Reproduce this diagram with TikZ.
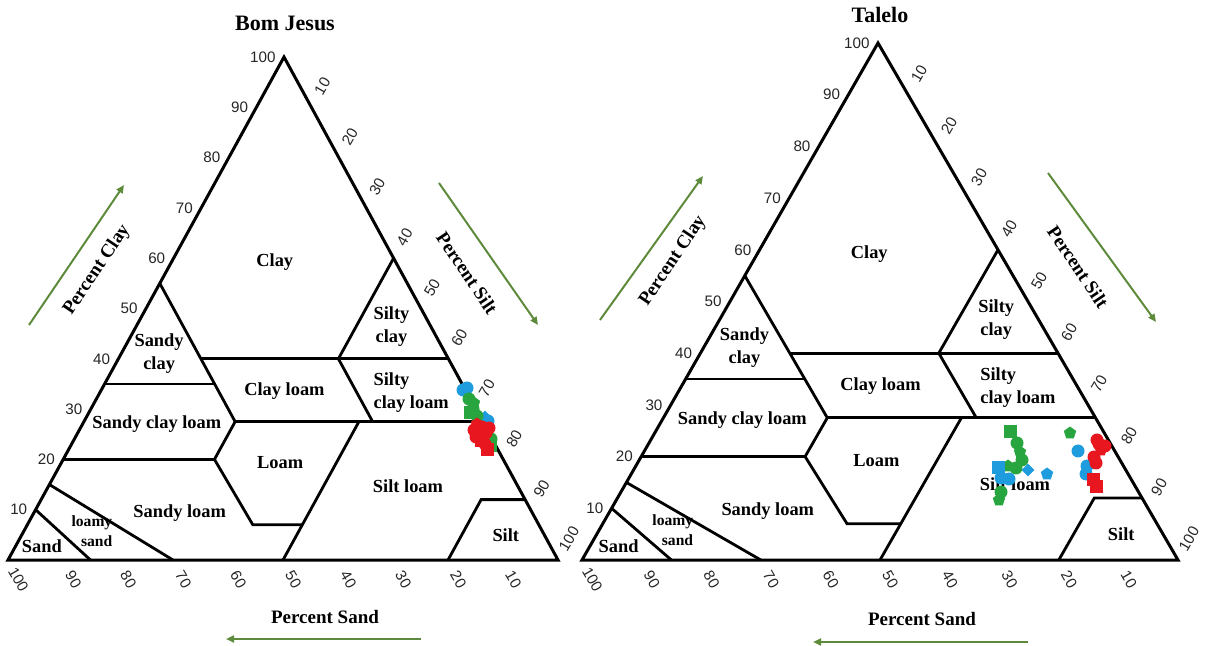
\documentclass[tikz,border=0pt]{standalone}
\usepackage{fontspec}
\setmainfont{Liberation Serif}
\setsansfont{Liberation Sans}
\usepackage{xcolor}
\usepackage{tikz}
\usetikzlibrary{arrows.meta,shapes.geometric}

\definecolor{arrowGreen}{RGB}{94,139,59}
\definecolor{dotRed}{RGB}{232,22,30}
\definecolor{dotGreen}{RGB}{40,165,62}
\definecolor{dotBlue}{RGB}{30,156,222}

\begin{document}
\begin{tikzpicture}[
        x=0.5pt, y=-0.5pt,
        borderLine/.style={line width=1.5pt, line join=miter},
        classLine/.style={line width=1.4pt},
        classLabel/.style={font=\fontsize{9.2}{11.5}\selectfont\bfseries, align=center, inner sep=0pt},
        smallLabel/.style={font=\fontsize{7.8}{10}\selectfont\bfseries, align=right, inner sep=0pt},
        tickLabel/.style={font=\fontsize{7.6}{8}\selectfont\sffamily, text=black!85, inner sep=0pt},
        titleLabel/.style={font=\fontsize{11}{12}\selectfont\bfseries, inner sep=0pt},
        axisLabel/.style={font=\fontsize{9.5}{10}\selectfont\bfseries, inner sep=0pt},
        axisArrow/.style={draw=arrowGreen, line width=1pt, -{Triangle[length=4pt,width=3.5pt]}},
        sampleMark/.style={fill=#1, draw=none, inner sep=0pt, minimum size=6.5pt, regular polygon sides=5},
    ]
    \useasboundingbox (0,0) rectangle (1205,646);

    % the two texture triangles: sand corner, silt step, clay step
    \foreach \t/\ox/\sx/\cx/\cy in {bj/8/2.75/1.38/2.515, tl/582/2.98/1.48/2.585}{
        \begin{scope}[shift={(\ox,560)}, x={(\sx pt,0pt)}, y={(\cx pt,\cy pt)}]
            \draw[borderLine] (0,0) -- (100,0) -- (0,100) -- cycle;
            % class boundaries
            \draw[classLine] (0,55) -- (27.5,27.5) -- (27.5,20) -- (41,7) -- (50,7);
            \draw[classLine] (0,35) -- (20,35);
            \draw[classLine] (15,40) -- (60,40);
            \draw[classLine] (40,60) -- (40,40) -- (52.5,27.5);
            \draw[classLine] (27.5,27.5) -- (72.5,27.5);
            \draw[classLine] (0,20) -- (27.5,20);
            \draw[classLine] (50,27.5) -- (50,0);
            \draw[classLine] (0,15) -- (30,0);
            \draw[classLine] (0,10) -- (15,0);
            \draw[classLine] (88,12) -- (80,12) -- (80,0);
            % tick labels
            \foreach \v in {10,20,...,100}{
                \node[tickLabel, anchor=east] (\t-clay\v) at ([xshift=-4pt]0,\v) {\v};
                \node[tickLabel, rotate=60] (\t-silt\v) at ([xshift=5.5pt,yshift=10.5pt]\v,100-\v) {\v};
                \node[tickLabel, rotate=-60] (\t-sand\v) at ([xshift=5.2pt,yshift=-9.7pt]100-\v,0) {\v};
            }
            % class names
            \node[classLabel] (\t-clay) at (18.8,59.2) {Clay};
            \node[classLabel] (\t-siltyClay) at (46.4,46.5) {Silty\\clay};
            \node[classLabel] (\t-sandyClay) at (6.9,41) {Sandy\\clay};
            \node[classLabel] (\t-clayLoam) at (33.4,33.6) {Clay loam};
            \node[classLabel, align=left] (\t-siltyClayLoam) at (56.6,33.3) {Silty\\clay loam};
            \node[classLabel] (\t-sandyClayLoam) at (13.5,27) {Sandy clay loam};
            \node[classLabel] (\t-loam) at (39.8,19.3) {Loam};
            \node[classLabel] (\t-siltLoam) at (65.4,14.6) {Silt loam};
            \node[classLabel] (\t-sandyLoam) at (26.5,9.4) {Sandy loam};
            \node[smallLabel] (\t-loamySand) at (12.4,5.7) {loamy\\sand};
            \node[classLabel] (\t-sand) at (4.8,2.7) {Sand};
            \node[classLabel] (\t-silt) at (88,5) {Silt};
        \end{scope}
    }

    % titles and axis names
    \node[titleLabel] (bjTitle) at (285,23) {Bom Jesus};
    \node[titleLabel] (tlTitle) at (880,15) {Talelo};

    \node[axisLabel, rotate=56]  (bjClayName) at (97,270)  {Percent Clay};
    \node[axisLabel, rotate=-56] (bjSiltName) at (467,273) {Percent Silt};
    \node[axisLabel]             (bjSandName) at (325,617) {Percent Sand};
    \node[axisLabel, rotate=56]  (tlClayName) at (673,261) {Percent Clay};
    \node[axisLabel, rotate=-56] (tlSiltName) at (1078,267) {Percent Silt};
    \node[axisLabel]             (tlSandName) at (922,619) {Percent Sand};

    \coordinate (bjClayTail) at (29,325);   \coordinate (bjClayHead) at (124,185);
    \coordinate (bjSiltTail) at (439,183);  \coordinate (bjSiltHead) at (538,325);
    \coordinate (bjSandTail) at (421,639);  \coordinate (bjSandHead) at (226,639);
    \coordinate (tlClayTail) at (600,320);  \coordinate (tlClayHead) at (703,176);
    \coordinate (tlSiltTail) at (1048,173); \coordinate (tlSiltHead) at (1156,322);
    \coordinate (tlSandTail) at (1028,642); \coordinate (tlSandHead) at (813,642);
    \draw[axisArrow] (bjClayTail) -- (bjClayHead);
    \draw[axisArrow] (bjSiltTail) -- (bjSiltHead);
    \draw[axisArrow, line width=1.4pt] (bjSandTail) -- (bjSandHead);
    \draw[axisArrow] (tlClayTail) -- (tlClayHead);
    \draw[axisArrow] (tlSiltTail) -- (tlSiltHead);
    \draw[axisArrow, line width=1.4pt] (tlSandTail) -- (tlSandHead);

    % Bom Jesus samples
    \foreach \px/\py/\sh [count=\i] in {463/390/circle, 467/388/circle, 488/421/circle, 485/417/diamond}
        \node[sampleMark=dotBlue, shape=\sh] (bjBlue\i) at (\px,\py) {};
    \foreach \px/\py/\sh [count=\i] in {469/399/circle, 474/403/regular polygon, 473/409/circle, 470/413/rectangle,
            477/416/circle, 491/439/circle, 490/446/rectangle}
        \node[sampleMark=dotGreen, shape=\sh] (bjGreen\i) at (\px,\py) {};
    \foreach \px/\py/\sh [count=\i] in {477/424/regular polygon, 482/427/circle, 486/433/circle, 476/437/circle,
            481/441/rectangle, 485/444/circle, 487/450/rectangle, 479/431/circle, 489/428/circle, 474/430/circle}
        \node[sampleMark=dotRed, shape=\sh] (bjRed\i) at (\px,\py) {};

    % Talelo samples
    \foreach \px/\py/\sh [count=\i] in {1010/432/rectangle, 1017/443/circle, 1020/452/regular polygon, 1022/460/circle,
            1016/468/circle, 1008/466/regular polygon, 999/500/regular polygon, 1001/492/circle, 1070/433/regular polygon}
        \node[sampleMark=dotGreen, shape=\sh] (tlGreen\i) at (\px,\py) {};
    \foreach \px/\py/\sh [count=\i] in {998/468/rectangle, 1001/478/circle, 1009/479/circle, 1028/470/diamond,
            1047/474/regular polygon, 1078/451/circle, 1087/466/circle, 1086/474/circle}
        \node[sampleMark=dotBlue, shape=\sh] (tlBlue\i) at (\px,\py) {};
    \foreach \px/\py/\sh [count=\i] in {1097/440/circle, 1101/450/regular polygon, 1094/457/circle, 1105/446/circle,
            1096/463/circle, 1093/480/rectangle, 1096/487/rectangle, 1099/444/circle}
        \node[sampleMark=dotRed, shape=\sh] (tlRed\i) at (\px,\py) {};
\end{tikzpicture}
\end{document}
